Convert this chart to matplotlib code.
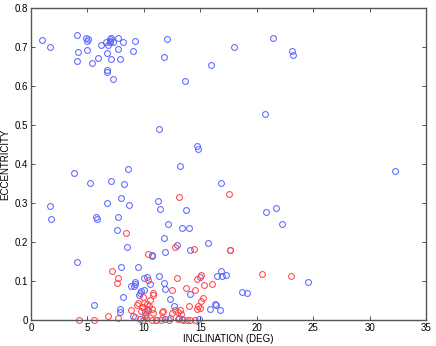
import matplotlib
matplotlib.use("Agg")
import matplotlib.pyplot as plt

plt.rcParams['font.family'] = ['Liberation Sans', 'DejaVu Sans']

blue_x = [0.97, 1.65, 4.07, 4.13, 4.05, 4.87, 5.02, 5.0, 4.96, 5.43, 5.9, 6.17, 6.64, 6.76, 6.7, 6.77,
          6.82, 7.0, 7.0, 7.1, 6.96, 7.06, 7.26, 7.26, 7.68, 7.68, 7.91, 8.18, 9.06, 9.21, 11.81, 12.07,
          13.64, 15.92, 17.98, 21.43, 23.12, 23.24,
          20.73, 11.31, 14.67, 14.82, 3.81, 13.17, 8.62, 32.27, 5.2, 7.09, 8.27, 16.8, 7.94, 6.7, 8.65,
          11.28, 11.43, 13.73, 1.65, 1.77, 5.79, 5.83, 7.68, 12.13, 13.35, 13.97, 7.65, 21.67, 20.82,
          22.2, 11.78, 15.71, 12.93, 8.5, 11.84, 14.11, 17.6, 4.07, 10.69, 10.73, 7.94, 9.48,
          10.04, 10.27, 11.31, 14.97, 16.44, 16.86, 16.93, 17.27, 11.78, 11.87, 9.24, 9.2, 8.86, 9.15,
          10.04, 9.71, 9.65, 9.53, 8.12, 14.08, 24.56, 18.66, 19.13, 12.34, 12.64, 5.61, 16.33, 16.4,
          15.83, 16.71, 7.88, 7.88, 10.33, 10.13, 9.06, 9.65, 10.2, 11.1, 11.87, 12.31, 13.08, 13.4,
          14.9, 10.54]
blue_y = [0.717, 0.699, 0.732, 0.686, 0.665, 0.724, 0.720, 0.716, 0.693, 0.660, 0.673, 0.706, 0.713,
          0.685, 0.640, 0.637, 0.706, 0.720, 0.716, 0.722, 0.712, 0.670, 0.619, 0.714, 0.722, 0.696,
          0.668, 0.714, 0.691, 0.715, 0.675, 0.720, 0.612, 0.655, 0.701, 0.722, 0.690, 0.679,
          0.527, 0.489, 0.446, 0.438, 0.378, 0.394, 0.386, 0.383, 0.351, 0.356, 0.348, 0.351, 0.314,
          0.301, 0.296, 0.304, 0.285, 0.282, 0.292, 0.258, 0.265, 0.259, 0.264, 0.247, 0.236, 0.236,
          0.232, 0.287, 0.276, 0.247, 0.210, 0.198, 0.193, 0.187, 0.174, 0.179, 0.180, 0.150, 0.167,
          0.165, 0.137, 0.137,
          0.107, 0.110, 0.112, 0.110, 0.113, 0.125, 0.113, 0.116, 0.095, 0.080, 0.097, 0.092, 0.086,
          0.086, 0.077, 0.074, 0.069, 0.063, 0.060, 0.066, 0.098, 0.071, 0.070, 0.053, 0.036, 0.038,
          0.040, 0.038, 0.028, 0.026, 0.027, 0.021, 0.026, 0.021, 0.009, 0.002, 0.005, 0.000, 0.003,
          0.005, 0.005, 0.002, 0.002, 0.093]

red_x = [13.14, 17.56, 8.41, 12.75, 14.44, 17.6, 10.36, 7.15, 7.68, 7.62, 10.36, 12.96, 14.7, 15.06,
         20.46, 23.0, 15.32, 16.06, 15.26, 10.83, 10.77, 12.46, 13.7, 14.53, 15.06, 10.54, 10.25, 10.05,
         9.95, 9.36, 9.77, 10.3, 10.75, 10.45, 10.2, 10.83, 11.57, 11.66, 12.46, 12.73, 13.05, 13.23,
         13.26, 13.99, 14.7, 14.97, 14.82, 8.89, 9.2, 10.1, 9.95, 10.75, 11.07, 11.5, 11.62, 12.2,
         13.05, 13.5, 13.8, 14.1, 14.53, 4.25, 5.58, 6.85, 7.7, 9.45, 9.8, 9.9]
red_y = [0.315, 0.323, 0.223, 0.186, 0.183, 0.180, 0.169, 0.125, 0.107, 0.095, 0.103, 0.108, 0.105,
         0.115, 0.119, 0.114, 0.090, 0.092, 0.057, 0.070, 0.064, 0.076, 0.082, 0.077, 0.050, 0.052,
         0.041, 0.044, 0.033, 0.039, 0.024, 0.027, 0.028, 0.036, 0.016, 0.017, 0.021, 0.024, 0.017,
         0.026, 0.021, 0.025, 0.015, 0.036, 0.029, 0.030, 0.035, 0.026, 0.007, 0.011, 0.000, 0.000,
         0.001, 0.000, 0.005, 0.000, 0.002, 0.000, 0.000, 0.000, 0.000, 0.000, 0.000, 0.010, 0.004,
         0.043, 0.034, 0.058]

xticks = [0, 5, 10, 15, 20, 25, 30, 35]
yticks = [0, 0.1, 0.2, 0.3, 0.4, 0.5, 0.6, 0.7, 0.8]

fig = plt.figure(figsize=(4.36, 3.46), dpi=100)
ax = fig.add_axes([31/436, 26/346, 395/436, 312/346])
ax.plot(blue_x, blue_y, 'o', mfc='none', mec='#5a68ff', ms=4.2, mew=0.75, clip_on=False)
ax.plot(red_x, red_y, 'o', mfc='none', mec='#ff4848', ms=4.2, mew=0.75, clip_on=False)
ax.set_xlim(0, 35)
ax.set_ylim(0, 0.8)
ax.set_xticks(xticks)
ax.set_yticks(yticks)
ax.set_xticklabels([str(t) for t in xticks])
ax.set_yticklabels(['0', '0.1', '0.2', '0.3', '0.4', '0.5', '0.6', '0.7', '0.8'])
ax.tick_params(direction='in', top=True, right=True, length=3, width=0.6, labelsize=7, pad=2,
               color='#333333')
for s in ax.spines.values():
    s.set_color('#555555')
    s.set_linewidth(1.0)
ax.set_xlabel('INCLINATION (DEG)', fontsize=7, labelpad=1)
ax.set_ylabel('ECCENTRICITY', fontsize=7, labelpad=3)
fig.savefig('out.png', dpi=100)
